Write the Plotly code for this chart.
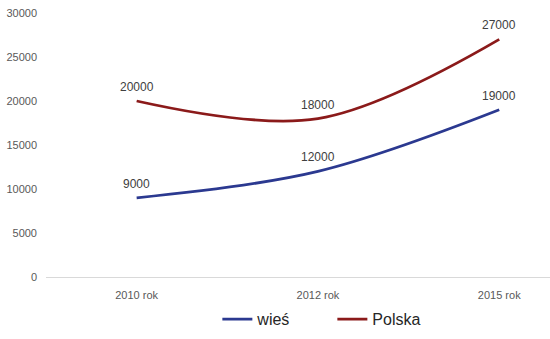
import plotly.graph_objects as go

categories = ["2010 rok", "2012 rok", "2015 rok"]
wies = [9000, 12000, 19000]
polska = [20000, 18000, 27000]
y_ticks = [0, 5000, 10000, 15000, 20000, 25000, 30000]

FONT = "Liberation Sans"

fig = go.Figure()
series = [("wieś", wies, "#2B3990"), ("Polska", polska, "#8B1A1A")]
for name, vals, color in series:
    fig.add_trace(go.Scatter(
        x=categories, y=vals, name=name, mode="lines",
        line=dict(color=color, width=2.8, shape="spline", smoothing=1.0),
    ))
    for c, v in zip(categories, vals):
        fig.add_annotation(
            x=c, y=v, text=str(v), showarrow=False, yshift=14,
            font=dict(family=FONT, size=12, color="#404040"),
        )

fig.update_layout(
    width=550, height=339,
    margin=dict(l=46, r=0, t=13, b=62),
    paper_bgcolor="white", plot_bgcolor="white",
    font=dict(family=FONT, size=11, color="#595959"),
    showlegend=True,
    legend=dict(
        orientation="h", x=0.34, xanchor="left", y=-0.16, yanchor="middle",
        font=dict(family=FONT, size=16, color="#262626"),
        entrywidth=70, entrywidthmode="pixels", itemwidth=30,
        bgcolor="rgba(0,0,0,0)",
    ),
    xaxis=dict(
        type="category", range=[-0.5, 2.28],
        showgrid=False, showline=False, zeroline=False, ticks="",
        ticklabelstandoff=10,
        tickfont=dict(family=FONT, size=11, color="#595959"),
    ),
    yaxis=dict(
        range=[0, 30000], tickvals=y_ticks, ticktext=[str(v) for v in y_ticks],
        showgrid=False, zeroline=True, zerolinecolor="#D9D9D9", zerolinewidth=1,
        showline=False, ticks="", ticklabelstandoff=8,
        tickfont=dict(family=FONT, size=11, color="#595959"),
    ),
)

fig.write_html("out.html")
